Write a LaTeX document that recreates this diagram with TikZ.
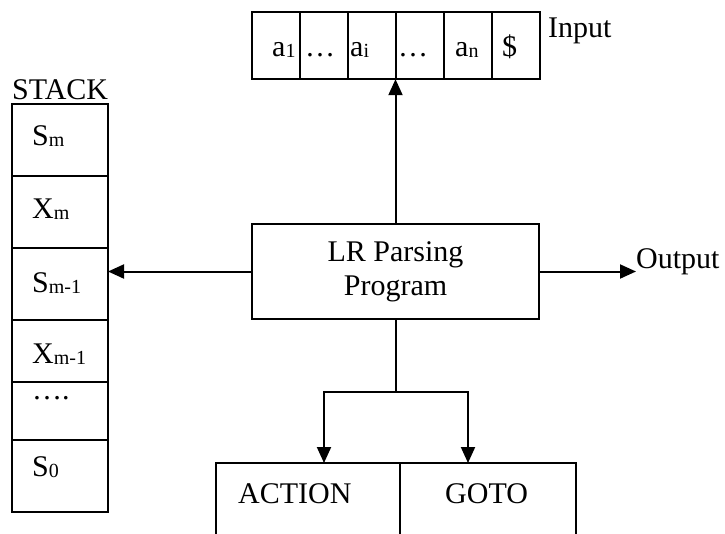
\documentclass[tikz,border=0pt]{standalone}
\usepackage{fontspec}
\setmainfont{Liberation Serif}
\usetikzlibrary{arrows.meta,fit}
\newcommand\sbs[1]{\raisebox{-0.06em}{\fontsize{20}{20}\selectfont #1}}
\begin{document}
\begin{tikzpicture}[x=1pt,y=-1pt,
  every node/.style={font=\fontsize{30}{34}\selectfont},
  box/.style={inner sep=0pt, outer sep=0pt},
  txt/.style={anchor=base west, inner sep=0pt},
  conn/.style={line width=2pt},
  arr/.style={line width=2pt, -{Triangle[length=16pt,width=14pt]}}]
\useasboundingbox (0,0) rectangle (725,533);
\clip (0,0) rectangle (725,533);
% input tape
\foreach \i/\x in {1/276,2/324,3/372,4/420,5/468,6/516}
  \node[box, minimum width=48pt, minimum height=67pt] (c\i) at (\x,45.5) {};
\node[inner sep=0pt, fit=(c1)(c6)] (in) {};
\node[txt] (t1) at (272,56) {a\sbs{1}};
\node[txt] (t2) at (305,56) {\dots};
\node[txt] (t3) at (350,56) {a\sbs{i}};
\node[txt] (t4) at (398,56) {\dots};
\node[txt] (t5) at (455,56) {a\sbs{n}};
\node[txt] (t6) at (502,56) {\$};
\node[txt] (inlab) at (548,37) {Input};
% stack
\node[txt] (stlab) at (12,99) {STACK};
\node[box, minimum width=96pt, minimum height=72pt] (s1) at (60,140) {};
\node[box, minimum width=96pt, minimum height=72pt] (s2) at (60,212) {};
\node[box, minimum width=96pt, minimum height=72pt] (s3) at (60,284) {};
\node[box, minimum width=96pt, minimum height=62pt] (s4) at (60,351) {};
\node[box, minimum width=96pt, minimum height=58pt] (s5) at (60,411) {};
\node[box, minimum width=96pt, minimum height=72pt] (s6) at (60,476) {};
\node[txt] (u1) at (32,145) {S\sbs{m}};
\node[txt] (u2) at (32,218) {X\sbs{m}};
\node[txt] (u3) at (32,292) {S\sbs{m-1}};
\node[txt] (u4) at (32,363) {X\sbs{m-1}};
\node[txt] (u5) at (32,399) {\dots.};
\node[txt] (u6) at (32,476) {S\sbs{0}};
% program
\node[box, minimum width=287pt, minimum height=95pt, align=center] (prog) at (395.5,271.5)
  {LR Parsing\\Program};
\node[txt] (outl) at (636,268) {Output};
% table
\node[box, minimum width=184pt, minimum height=100pt] (act) at (308,513) {};
\node[box, minimum width=176pt, minimum height=100pt] (goto) at (488,513) {};
\node[txt] at (238,503) {ACTION};
\node[txt] at (445,503) {GOTO};
% box borders
\foreach \n in {c1,c2,c3,c4,c5,c6,s1,s2,s3,s4,s5,s6,prog,act,goto}
  \draw[conn] (\n.south west) rectangle (\n.north east);
% connectors
\draw[arr] (prog.north) -- (prog.north |- in.south);
\draw[arr] (prog.west) -- (prog.west -| s3.east);
\draw[arr] (prog.east) -- (prog.east -| outl.west);
\draw[conn] (prog.south) -- ++(0,73) coordinate (split);
\draw[arr] (split) -| ([xshift=16pt]act.north);
\draw[arr] (split) -| ([xshift=-20pt]goto.north);
\end{tikzpicture}
\end{document}
